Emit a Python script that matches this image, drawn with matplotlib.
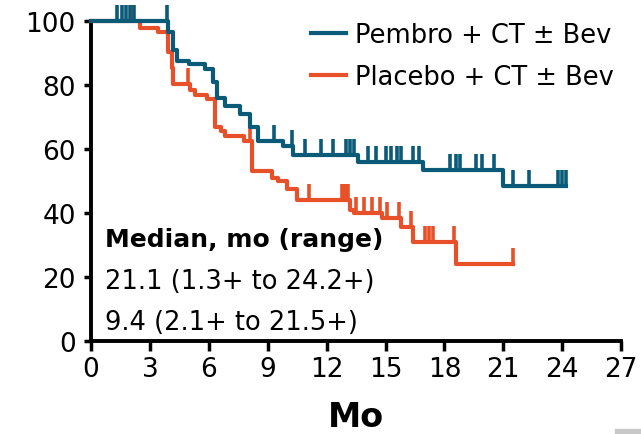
import numpy as np
import matplotlib
matplotlib.use('Agg')
import matplotlib.pyplot as plt

plt.rcParams['font.family'] = ['DejaVu Sans']

# Kaplan-Meier steps: (time in months, % event-free after the drop)
pembro_t = [0, 3.9, 4.2, 4.4, 5.0, 5.8, 6.2, 6.4, 6.8, 7.6, 8.1, 8.5, 9.8, 10.3, 13.6, 16.9, 21.0]
pembro_s = [100, 96.5, 91, 87.5, 86.5, 85, 81, 76, 73.5, 71, 67, 62.5, 61, 58, 56, 53.5, 48.5]
pembro_cens = [1.3, 1.6, 1.8, 2.0, 2.2, 3.85, 9.3, 10.25, 10.9, 11.7, 12.3, 13.0, 13.2, 13.4,
               14.1, 14.5, 15.0, 15.3, 15.6, 15.8, 16.4, 16.7, 18.3, 18.6, 18.8, 19.6, 19.9,
               20.5, 21.5, 22.3, 23.8, 24.0, 24.2]

placebo_t = [0, 2.5, 3.4, 3.9, 4.1, 4.2, 5.05, 5.3, 5.9, 6.3, 6.6, 6.8, 7.8, 8.2, 9.2, 9.5,
             10.0, 10.5, 13.2, 13.4, 14.8, 15.8, 16.4, 18.6]
placebo_s = [100, 98, 96.5, 90.5, 85.5, 80.5, 78.5, 77, 75.6, 67, 65.5, 64, 62.5, 53, 51, 50,
             47.5, 44, 41, 40, 38.5, 35.5, 31, 24]
placebo_cens = [2.1, 4.95, 8.1, 11.1, 12.8, 12.9, 13.0, 13.1, 13.5, 13.9, 14.3, 14.7, 15.1,
                15.7, 16.3, 17.0, 17.2, 17.4, 18.5, 21.5]

labels = ['Pembro + CT \u00b1 Bev', 'Placebo + CT \u00b1 Bev']
colors = ['#0b5a78', '#e8502a']
median_lines = ['21.1 (1.3+ to 24.2+)', '9.4 (2.1+ to 21.5+)']

x_ticks = list(range(0, 28, 3))
y_ticks = list(range(0, 101, 20))


def level_at(times, surv, when):
    idx = np.searchsorted(times, when, side='right') - 1
    return np.asarray(surv)[idx]


fig = plt.figure(figsize=(6.41, 4.35), dpi=100)
ax = fig.add_axes([0.142, 0.214, 0.827, 0.735])

curves = [(pembro_t, pembro_s, pembro_cens), (placebo_t, placebo_s, placebo_cens)]
# placebo drawn first so pembro sits on top where they overlap
for (t, s, cens), lab, col, z in zip(curves[::-1], labels[::-1], colors[::-1], [3, 4]):
    tt = list(t) + [max(cens)]
    ss = list(s) + [s[-1]]
    ax.step(tt, ss, where='post', color=col, lw=3.0, label=lab, zorder=z, clip_on=False)
    base = level_at(t, s, cens)
    ax.vlines(cens, base, base + 5, color=col, lw=2.6, zorder=z, clip_on=False)

ax.set_xlim(0, 27)
ax.set_ylim(0, 100)
ax.set_xticks(x_ticks)
ax.set_yticks(y_ticks)
ax.tick_params(labelsize=19, width=2.5, length=5, pad=6, color='black')
ax.tick_params(axis='x', length=7, pad=4)
for side in ['top', 'right']:
    ax.spines[side].set_visible(False)
for side in ['left', 'bottom']:
    ax.spines[side].set_linewidth(2.8)
ax.set_xlabel('Mo', fontsize=24, fontweight='bold', labelpad=13)

ax.text(0.72, 29.7, 'Median, mo (range)', fontsize=18, fontweight='bold', va='baseline', zorder=5)
ax.text(0.72, 16.6, median_lines[0], fontsize=18.5, va='baseline', zorder=5)
ax.text(0.72, 3.8, median_lines[1], fontsize=18.5, va='baseline', zorder=5)

handles, labs = ax.get_legend_handles_labels()
ax.legend(handles[::-1], labs[::-1], loc='upper right', bbox_to_anchor=(0.987, 0.997),
          frameon=False, fontsize=18.5, handlelength=1.36, handletextpad=0.38,
          labelspacing=0.6, borderpad=0, borderaxespad=0)

fig.patches.append(plt.Rectangle((0.96, 0.0), 0.04, 0.012, transform=fig.transFigure,
                                 color='#c8c8c8', zorder=0))

fig.savefig('out.png', dpi=100)
